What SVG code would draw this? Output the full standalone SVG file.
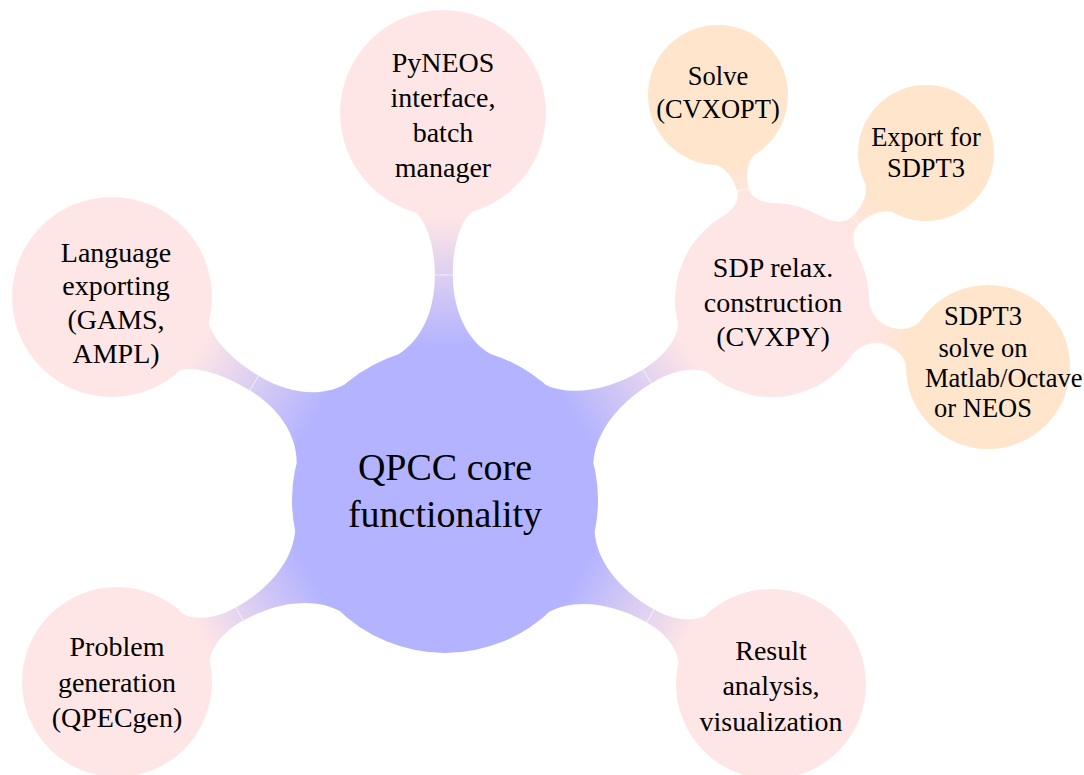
<svg xmlns="http://www.w3.org/2000/svg" width="1084" height="775" viewBox="0 0 1084 775">
<style>
.t{font-family:"Liberation Serif","Times New Roman",serif;fill:#000;text-anchor:middle}
.c{font-size:38px}
.p{font-size:28px}
.o{font-size:26.5px}
.blue{fill:#b3b3ff}
.pink{fill:#ffe6e6}
.orange{fill:#ffe5cc}
.seam{stroke:#ffffff;stroke-width:0.8;stroke-opacity:0.8;fill:none}
</style>
<defs>
<linearGradient id="gPy" gradientUnits="userSpaceOnUse" x1="153" y1="0" x2="284" y2="0"><stop offset="0" stop-color="#b3b3ff"/><stop offset="1" stop-color="#ffe6e6"/></linearGradient>
<linearGradient id="gLa" gradientUnits="userSpaceOnUse" x1="153" y1="0" x2="290.5" y2="0"><stop offset="0" stop-color="#b3b3ff"/><stop offset="1" stop-color="#ffe6e6"/></linearGradient>
<linearGradient id="gPr" gradientUnits="userSpaceOnUse" x1="153" y1="0" x2="280" y2="0"><stop offset="0" stop-color="#b3b3ff"/><stop offset="1" stop-color="#ffe6e6"/></linearGradient>
<linearGradient id="gRe" gradientUnits="userSpaceOnUse" x1="153" y1="0" x2="279.3" y2="0"><stop offset="0" stop-color="#b3b3ff"/><stop offset="1" stop-color="#ffe6e6"/></linearGradient>
<linearGradient id="gSd" gradientUnits="userSpaceOnUse" x1="153" y1="0" x2="286.3" y2="0"><stop offset="0" stop-color="#b3b3ff"/><stop offset="1" stop-color="#ffe6e6"/></linearGradient>
<linearGradient id="gSo" gradientUnits="userSpaceOnUse" x1="97" y1="0" x2="142" y2="0"><stop offset="0" stop-color="#ffe6e6"/><stop offset="1" stop-color="#ffe5cc"/></linearGradient>
<linearGradient id="gEx" gradientUnits="userSpaceOnUse" x1="97" y1="0" x2="144.9" y2="0"><stop offset="0" stop-color="#ffe6e6"/><stop offset="1" stop-color="#ffe5cc"/></linearGradient>
<linearGradient id="gSt" gradientUnits="userSpaceOnUse" x1="97" y1="0" x2="144.2" y2="0"><stop offset="0" stop-color="#ffe6e6"/><stop offset="1" stop-color="#ffe5cc"/></linearGradient>
</defs>

<g id="connectors">
  <g transform="translate(445,500) rotate(-90.3)">
    <path fill="url(#gPy)" d="M145.9,46 C157.8,25.7 185.5,9 225,9 C256.5,9 278.5,17.6 287.9,28 L287.9,-28 C278.5,-17.6 256.5,-9 225,-9 C185.5,-9 157.8,-25.7 145.9,-46 Z"/>
    <line class="seam" x1="225" y1="-9" x2="225" y2="9"/>
  </g>
  <g transform="translate(445,500) rotate(-148.5)">
    <path fill="url(#gLa)" d="M145.9,46 C157.6,25.4 184.85,8.5 223.8,8.5 C259.15,8.5 283.9,17.3 294.5,28 L294.5,-28 C283.9,-17.3 259.15,-8.5 223.8,-8.5 C184.85,-8.5 157.6,-25.4 145.9,-46 Z"/>
    <line class="seam" x1="223.8" y1="-8.5" x2="223.8" y2="8.5"/>
  </g>
  <g transform="translate(445,500) rotate(150.97)">
    <path fill="url(#gPr)" d="M145.9,46 C159.3,24.8 190.45,7.5 235,7.5 C259.5,7.5 276.65,16.3 284,27 L284,-27 C276.65,-16.3 259.5,-7.5 235,-7.5 C190.45,-7.5 159.3,-24.8 145.9,-46 Z"/>
    <line class="seam" x1="235" y1="-7.5" x2="235" y2="7.5"/>
  </g>
  <g transform="translate(445,500) rotate(29.44)">
    <path fill="url(#gRe)" d="M145.9,46 C159.4,24.8 190.95,7.5 236,7.5 C259.6,7.5 276.1,16.3 283.2,27 L283.2,-27 C276.1,-16.3 259.6,-7.5 236,-7.5 C190.95,-7.5 159.4,-24.8 145.9,-46 Z"/>
    <line class="seam" x1="236" y1="-7.5" x2="236" y2="7.5"/>
  </g>
  <g transform="translate(445,500) rotate(-31.45)">
    <path fill="url(#gSd)" d="M145.9,46 C159.6,25.1 191.45,8 237,8 C263.7,8 282.4,17 290.4,28 L290.4,-28 C282.4,-17 263.7,-8 237,-8 C191.45,-8 159.6,-25.1 145.9,-46 Z"/>
    <line class="seam" x1="237" y1="-8" x2="237" y2="8"/>
  </g>
  <g transform="translate(772,300) rotate(-104.76)">
    <path fill="url(#gSo)" d="M92.6,29 C95.8,16.35 103.2,6 113.8,6 C129.3,6 140.2,12.1 144.8,19.6 L144.8,-19.6 C140.2,-12.1 129.3,-6 113.8,-6 C103.2,-6 95.8,-16.35 92.6,-29 Z"/>
    <line class="seam" x1="113.8" y1="-6" x2="113.8" y2="6"/>
  </g>
  <g transform="translate(772,300) rotate(-43.67)">
    <path fill="url(#gEx)" d="M92.6,29 C96,15.8 103.95,5 115.3,5 C131.45,5 142.8,11.3 147.6,19 L147.6,-19 C142.8,-11.3 131.45,-5 115.3,-5 C103.95,-5 96,-15.8 92.6,-29 Z"/>
    <line class="seam" x1="115.3" y1="-5" x2="115.3" y2="5"/>
  </g>
  <g transform="translate(772,300) rotate(17.23)">
    <path fill="url(#gSt)" d="M92.6,29 C96.9,18 106.8,9 121,9 C134.25,9 143.5,15.3 147.5,23 L147.5,-23 C143.5,-15.3 134.25,-9 121,-9 C106.8,-9 96.9,-18 92.6,-29 Z"/>
  </g>
</g>

<g id="node-core">
  <circle class="blue" cx="445" cy="500" r="153"/>
  <text class="t c" x="445" y="480">QPCC core</text>
  <text class="t c" x="445" y="527">functionality</text>
</g>
<g id="node-pyneos">
  <circle class="pink" cx="443" cy="113" r="103"/>
  <text class="t p" x="443" y="72">PyNEOS</text>
  <text class="t p" x="443" y="107">interface,</text>
  <text class="t p" x="443" y="142">batch</text>
  <text class="t p" x="443" y="177">manager</text>
</g>
<g id="node-language">
  <circle class="pink" cx="112" cy="297" r="100"/>
  <text class="t p" x="116" y="262">Language</text>
  <text class="t p" x="116" y="295">exporting</text>
  <text class="t p" x="116" y="329">(GAMS,</text>
  <text class="t p" x="116" y="363">AMPL)</text>
</g>
<g id="node-problem">
  <circle class="pink" cx="117" cy="682" r="95"/>
  <text class="t p" x="117" y="656">Problem</text>
  <text class="t p" x="117" y="692">generation</text>
  <text class="t p" x="117" y="727">(QPECgen)</text>
</g>
<g id="node-result">
  <circle class="pink" cx="771" cy="684" r="95"/>
  <text class="t p" x="771" y="660">Result</text>
  <text class="t p" x="771" y="695">analysis,</text>
  <text class="t p" x="771" y="731">visualization</text>
</g>
<g id="node-sdp">
  <circle class="pink" cx="772" cy="300" r="97"/>
  <text class="t p" x="773" y="277">SDP relax.</text>
  <text class="t p" x="773" y="312">construction</text>
  <text class="t p" x="773" y="346">(CVXPY)</text>
</g>
<g id="node-solve">
  <circle class="orange" cx="718" cy="95" r="70"/>
  <text class="t o" x="718" y="85">Solve</text>
  <text class="t o" x="718" y="118">(CVXOPT)</text>
</g>
<g id="node-export">
  <circle class="orange" cx="926" cy="153" r="68"/>
  <text class="t o" x="926" y="146">Export for</text>
  <text class="t o" x="926" y="177">SDPT3</text>
</g>
<g id="node-sdpt3">
  <circle class="orange" cx="988" cy="367" r="82"/>
  <text class="t o" x="983" y="325">SDPT3</text>
  <text class="t o" x="983" y="357">solve on</text>
  <text class="t o" x="925" y="387" style="text-anchor:start">Matlab/Octave</text>
  <text class="t o" x="983" y="417">or NEOS</text>
</g>
</svg>
